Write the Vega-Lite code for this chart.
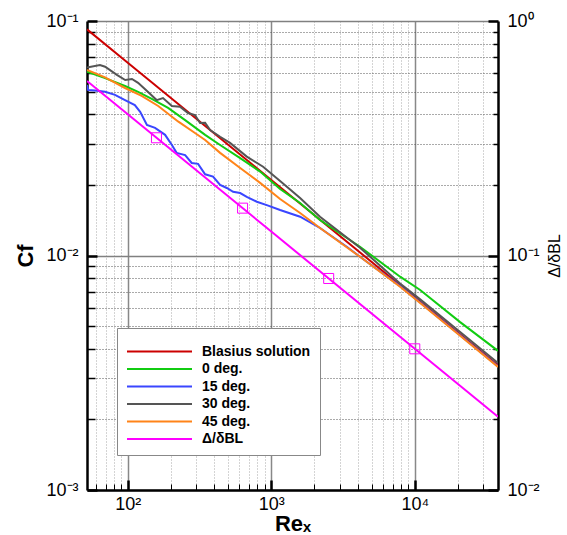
{
  "$schema": "https://vega.github.io/schema/vega-lite/v6.json",
  "width": 411,
  "height": 469,
  "autosize": {"type": "none"},
  "padding": {"left": 87, "top": 21, "right": 69, "bottom": 45},
  "background": "white",
  "config": {
    "view": {"stroke": null},
    "font": "Liberation Sans",
    "axis": {"labelFont": "Liberation Sans", "labelColor": "black", "titleColor": "black", "titleFont": "Liberation Sans", "domainColor": "black", "tickColor": "black"}
  },
  "encoding": {
    "x": {
      "field": "Re",
      "type": "quantitative",
      "scale": {"type": "log", "domain": [52, 38000], "nice": false},
      "axis": {
        "values": [60, 70, 80, 90, 100, 200, 300, 400, 500, 600, 700, 800, 900, 1000, 2000, 3000, 4000, 5000, 6000, 7000, 8000, 9000, 10000, 20000, 30000],
        "labelExpr": "datum.value == 100 ? '10²' : datum.value == 1000 ? '10³' : datum.value == 10000 ? '10⁴' : ''",
        "labelFontSize": 18,
        "labelPadding": 15,
        "labelOverlap": false,
        "labelFlush": false,
        "labelBound": false,
        "domainWidth": 2.5,
        "tickSize": {"condition": {"test": "datum.value == 100 || datum.value == 1000 || datum.value == 10000", "value": -10}, "value": -6},
        "tickWidth": {"condition": {"test": "datum.value == 100 || datum.value == 1000 || datum.value == 10000", "value": 2.5}, "value": 1},
        "grid": true,
        "gridColor": {"condition": {"test": "datum.value == 100 || datum.value == 1000 || datum.value == 10000", "value": "#888888"}, "value": "#a8a8a8"},
        "gridDash": {"condition": {"test": "datum.value == 100 || datum.value == 1000 || datum.value == 10000", "value": []}, "value": [1, 2]},
        "gridWidth": {"condition": {"test": "datum.value == 100 || datum.value == 1000 || datum.value == 10000", "value": 1.5}, "value": 1},
        "title": "Reₓ",
        "titleFontSize": 22,
        "titleFontWeight": "bold",
        "titleX": 205.5,
        "titleY": 40,
        "titleAlign": "center",
        "titleBaseline": "alphabetic"
      }
    }
  },
  "layer": [
    {
      "data": {
        "values": [
          {"series": "Blasius solution", "Re": 52, "Cf": 0.0921},
          {"series": "Blasius solution", "Re": 100, "Cf": 0.0664},
          {"series": "Blasius solution", "Re": 1000, "Cf": 0.0210},
          {"series": "Blasius solution", "Re": 10000, "Cf": 0.00664},
          {"series": "Blasius solution", "Re": 38000, "Cf": 0.003406},

          {"series": "0 deg.", "Re": 52, "Cf": 0.0608},
          {"series": "0 deg.", "Re": 69.5, "Cf": 0.0571},
          {"series": "0 deg.", "Re": 95.7, "Cf": 0.0528},
          {"series": "0 deg.", "Re": 118, "Cf": 0.0499},
          {"series": "0 deg.", "Re": 147, "Cf": 0.0465},
          {"series": "0 deg.", "Re": 191, "Cf": 0.0426},
          {"series": "0 deg.", "Re": 251, "Cf": 0.0378},
          {"series": "0 deg.", "Re": 346, "Cf": 0.0327},
          {"series": "0 deg.", "Re": 440, "Cf": 0.0296},
          {"series": "0 deg.", "Re": 607, "Cf": 0.0260},
          {"series": "0 deg.", "Re": 836, "Cf": 0.0228},
          {"series": "0 deg.", "Re": 1152, "Cf": 0.0192},
          {"series": "0 deg.", "Re": 1588, "Cf": 0.01675},
          {"series": "0 deg.", "Re": 2185, "Cf": 0.01417},
          {"series": "0 deg.", "Re": 4150, "Cf": 0.0109},
          {"series": "0 deg.", "Re": 7900, "Cf": 0.00812},
          {"series": "0 deg.", "Re": 10900, "Cf": 0.00713},
          {"series": "0 deg.", "Re": 20700, "Cf": 0.0052},
          {"series": "0 deg.", "Re": 38000, "Cf": 0.00392},

          {"series": "15 deg.", "Re": 52, "Cf": 0.0533},
          {"series": "15 deg.", "Re": 53, "Cf": 0.0508},
          {"series": "15 deg.", "Re": 59.2, "Cf": 0.0505},
          {"series": "15 deg.", "Re": 69.5, "Cf": 0.0499},
          {"series": "15 deg.", "Re": 81.5, "Cf": 0.0484},
          {"series": "15 deg.", "Re": 95.7, "Cf": 0.046},
          {"series": "15 deg.", "Re": 112, "Cf": 0.0438},
          {"series": "15 deg.", "Re": 122, "Cf": 0.041},
          {"series": "15 deg.", "Re": 136, "Cf": 0.036},
          {"series": "15 deg.", "Re": 155, "Cf": 0.035},
          {"series": "15 deg.", "Re": 182, "Cf": 0.0327},
          {"series": "15 deg.", "Re": 203, "Cf": 0.0296},
          {"series": "15 deg.", "Re": 219, "Cf": 0.0274},
          {"series": "15 deg.", "Re": 251, "Cf": 0.0268},
          {"series": "15 deg.", "Re": 279, "Cf": 0.0248},
          {"series": "15 deg.", "Re": 309, "Cf": 0.0246},
          {"series": "15 deg.", "Re": 346, "Cf": 0.0222},
          {"series": "15 deg.", "Re": 393, "Cf": 0.0217},
          {"series": "15 deg.", "Re": 440, "Cf": 0.02},
          {"series": "15 deg.", "Re": 490, "Cf": 0.0194},
          {"series": "15 deg.", "Re": 542, "Cf": 0.0187},
          {"series": "15 deg.", "Re": 607, "Cf": 0.01846},
          {"series": "15 deg.", "Re": 675, "Cf": 0.0178},
          {"series": "15 deg.", "Re": 793, "Cf": 0.01696},
          {"series": "15 deg.", "Re": 931, "Cf": 0.0164},
          {"series": "15 deg.", "Re": 1152, "Cf": 0.01563},
          {"series": "15 deg.", "Re": 1588, "Cf": 0.01464},
          {"series": "15 deg.", "Re": 2185, "Cf": 0.0131},
          {"series": "15 deg.", "Re": 3357, "Cf": 0.0109},
          {"series": "15 deg.", "Re": 4150, "Cf": 0.00988},
          {"series": "15 deg.", "Re": 7900, "Cf": 0.0074},
          {"series": "15 deg.", "Re": 10900, "Cf": 0.0063},
          {"series": "15 deg.", "Re": 20700, "Cf": 0.00457},
          {"series": "15 deg.", "Re": 38000, "Cf": 0.00337},

          {"series": "30 deg.", "Re": 52, "Cf": 0.0633},
          {"series": "30 deg.", "Re": 64, "Cf": 0.0649},
          {"series": "30 deg.", "Re": 69.5, "Cf": 0.0638},
          {"series": "30 deg.", "Re": 84, "Cf": 0.0589},
          {"series": "30 deg.", "Re": 96, "Cf": 0.056},
          {"series": "30 deg.", "Re": 107, "Cf": 0.0566},
          {"series": "30 deg.", "Re": 118, "Cf": 0.0545},
          {"series": "30 deg.", "Re": 138, "Cf": 0.0499},
          {"series": "30 deg.", "Re": 159, "Cf": 0.046},
          {"series": "30 deg.", "Re": 176, "Cf": 0.0469},
          {"series": "30 deg.", "Re": 203, "Cf": 0.0434},
          {"series": "30 deg.", "Re": 231, "Cf": 0.0431},
          {"series": "30 deg.", "Re": 263, "Cf": 0.0405},
          {"series": "30 deg.", "Re": 294, "Cf": 0.0397},
          {"series": "30 deg.", "Re": 319, "Cf": 0.0367},
          {"series": "30 deg.", "Re": 346, "Cf": 0.0368},
          {"series": "30 deg.", "Re": 375, "Cf": 0.0343},
          {"series": "30 deg.", "Re": 440, "Cf": 0.0321},
          {"series": "30 deg.", "Re": 516, "Cf": 0.0302},
          {"series": "30 deg.", "Re": 675, "Cf": 0.0264},
          {"series": "30 deg.", "Re": 877, "Cf": 0.0239},
          {"series": "30 deg.", "Re": 1152, "Cf": 0.0208},
          {"series": "30 deg.", "Re": 1588, "Cf": 0.0176},
          {"series": "30 deg.", "Re": 2185, "Cf": 0.01464},
          {"series": "30 deg.", "Re": 4150, "Cf": 0.0108},
          {"series": "30 deg.", "Re": 7900, "Cf": 0.0076},
          {"series": "30 deg.", "Re": 10900, "Cf": 0.0065},
          {"series": "30 deg.", "Re": 20700, "Cf": 0.00472},
          {"series": "30 deg.", "Re": 38000, "Cf": 0.00348},

          {"series": "45 deg.", "Re": 52, "Cf": 0.0618},
          {"series": "45 deg.", "Re": 69.5, "Cf": 0.0575},
          {"series": "45 deg.", "Re": 95.7, "Cf": 0.0518},
          {"series": "45 deg.", "Re": 125, "Cf": 0.0479},
          {"series": "45 deg.", "Re": 163, "Cf": 0.0434},
          {"series": "45 deg.", "Re": 224, "Cf": 0.0373},
          {"series": "45 deg.", "Re": 294, "Cf": 0.0333},
          {"series": "45 deg.", "Re": 346, "Cf": 0.0311},
          {"series": "45 deg.", "Re": 440, "Cf": 0.0274},
          {"series": "45 deg.", "Re": 607, "Cf": 0.0236},
          {"series": "45 deg.", "Re": 836, "Cf": 0.0204},
          {"series": "45 deg.", "Re": 1152, "Cf": 0.01742},
          {"series": "45 deg.", "Re": 1588, "Cf": 0.01518},
          {"series": "45 deg.", "Re": 2185, "Cf": 0.0131},
          {"series": "45 deg.", "Re": 4150, "Cf": 0.00988},
          {"series": "45 deg.", "Re": 7900, "Cf": 0.00736},
          {"series": "45 deg.", "Re": 10900, "Cf": 0.00627},
          {"series": "45 deg.", "Re": 20700, "Cf": 0.00455},
          {"series": "45 deg.", "Re": 38000, "Cf": 0.00335}
        ]
      },
      "mark": {"type": "line", "strokeWidth": 2, "clip": true},
      "encoding": {
        "y": {
          "field": "Cf",
          "type": "quantitative",
          "scale": {"type": "log", "domain": [0.001, 0.1], "nice": false},
          "axis": {
            "orient": "left",
            "values": [0.001, 0.002, 0.003, 0.004, 0.005, 0.006, 0.007, 0.008, 0.009, 0.01, 0.02, 0.03, 0.04, 0.05, 0.06, 0.07, 0.08, 0.09, 0.1],
            "labelExpr": "datum.value == 0.1 ? '10⁻¹' : datum.value == 0.01 ? '10⁻²' : datum.value == 0.001 ? '10⁻³' : ''",
            "labelFontSize": 18,
            "labelPadding": 19,
            "labelOverlap": false,
            "labelFlush": false,
            "labelBound": false,
            "domainWidth": 2.5,
            "tickSize": {"condition": {"test": "datum.value == 0.1 || datum.value == 0.01 || datum.value == 0.001", "value": -10}, "value": -8},
            "tickWidth": {"condition": {"test": "datum.value == 0.1 || datum.value == 0.01 || datum.value == 0.001", "value": 2.5}, "value": 1.5},
            "grid": true,
            "gridColor": {"condition": {"test": "datum.value == 0.1 || datum.value == 0.01 || datum.value == 0.001", "value": "#808080"}, "value": "#555555"},
            "gridDash": {"condition": {"test": "datum.value == 0.1 || datum.value == 0.01 || datum.value == 0.001", "value": []}, "value": [1, 2]},
            "gridWidth": {"condition": {"test": "datum.value == 0.1 || datum.value == 0.01 || datum.value == 0.001", "value": 1.5}, "value": 1},
            "title": "Cf",
            "titleFontSize": 22,
            "titleFontWeight": "bold",
            "titleAngle": 270,
            "titleX": -55,
            "titleY": 234.5,
            "titleAlign": "center",
            "titleBaseline": "alphabetic"
          }
        },
        "color": {
          "field": "series",
          "type": "nominal",
          "scale": {
            "domain": ["Blasius solution", "0 deg.", "15 deg.", "30 deg.", "45 deg.", "Δ/δBL"],
            "range": ["#cc0000", "#11cc11", "#3a46ff", "#555555", "#ff8419", "#ff00ff"]
          },
          "legend": {
            "orient": "none",
            "legendX": 30,
            "legendY": 307,
            "title": " ",
            "titleFontSize": 7,
            "titlePadding": 0,
            "symbolType": "M-5,0H5",
            "symbolSize": 169,
            "symbolStrokeWidth": 2,
            "symbolOffset": 26,
            "labelOffset": 35,
            "labelFont": "Liberation Sans",
            "labelFontSize": 14,
            "labelFontWeight": "bold",
            "labelColor": "black",
            "labelLimit": 300,
            "rowPadding": 2.5,
            "padding": 9,
            "fillColor": "white",
            "strokeColor": "#888888"
          }
        }
      }
    },
    {
      "encoding": {
        "y": {
          "field": "d",
          "type": "quantitative",
          "scale": {"type": "log", "domain": [0.01, 1], "nice": false},
          "axis": {
            "orient": "right",
            "values": [0.01, 0.02, 0.03, 0.04, 0.05, 0.06, 0.07, 0.08, 0.09, 0.1, 0.2, 0.3, 0.4, 0.5, 0.6, 0.7, 0.8, 0.9, 1],
            "labelExpr": "datum.value == 1 ? '10⁰' : datum.value == 0.1 ? '10⁻¹' : datum.value == 0.01 ? '10⁻²' : ''",
            "labelFontSize": 18,
            "labelPadding": 19,
            "labelOverlap": false,
            "labelFlush": false,
            "labelBound": false,
            "domainWidth": 2.5,
            "tickSize": {"condition": {"test": "datum.value == 1 || datum.value == 0.1 || datum.value == 0.01", "value": -10}, "value": -5},
            "tickWidth": {"condition": {"test": "datum.value == 1 || datum.value == 0.1 || datum.value == 0.01", "value": 2.5}, "value": 1.5},
            "grid": false,
            "title": "Δ/δBL",
            "titleFontSize": 16,
            "titleFontWeight": "normal",
            "titleAngle": 270,
            "titleX": 61,
            "titleY": 234.5,
            "titleAlign": "center",
            "titleBaseline": "alphabetic"
          }
        }
      },
      "layer": [
        {
          "data": {
            "values": [
              {"series": "Δ/δBL", "Re": 52, "d": 0.5547},
              {"series": "Δ/δBL", "Re": 100, "d": 0.4},
              {"series": "Δ/δBL", "Re": 1000, "d": 0.1265},
              {"series": "Δ/δBL", "Re": 10000, "d": 0.04},
              {"series": "Δ/δBL", "Re": 38000, "d": 0.02052}
            ]
          },
          "mark": {"type": "line", "strokeWidth": 2, "clip": true},
          "encoding": {
            "color": {
              "field": "series",
              "type": "nominal",
              "scale": {
                "domain": ["Blasius solution", "0 deg.", "15 deg.", "30 deg.", "45 deg.", "Δ/δBL"],
                "range": ["#cc0000", "#11cc11", "#3a46ff", "#555555", "#ff8419", "#ff00ff"]
              }
            }
          }
        },
        {
          "data": {
            "values": [
              {"Re": 158.5, "d": 0.3177},
              {"Re": 631, "d": 0.1592},
              {"Re": 2512, "d": 0.0798},
              {"Re": 10000, "d": 0.04}
            ]
          },
          "mark": {"type": "point", "shape": "square", "filled": false, "size": 100, "color": "#ff00ff", "strokeWidth": 1, "opacity": 1}
        }
      ]
    }
  ],
  "resolve": {"scale": {"y": "independent"}}
}
